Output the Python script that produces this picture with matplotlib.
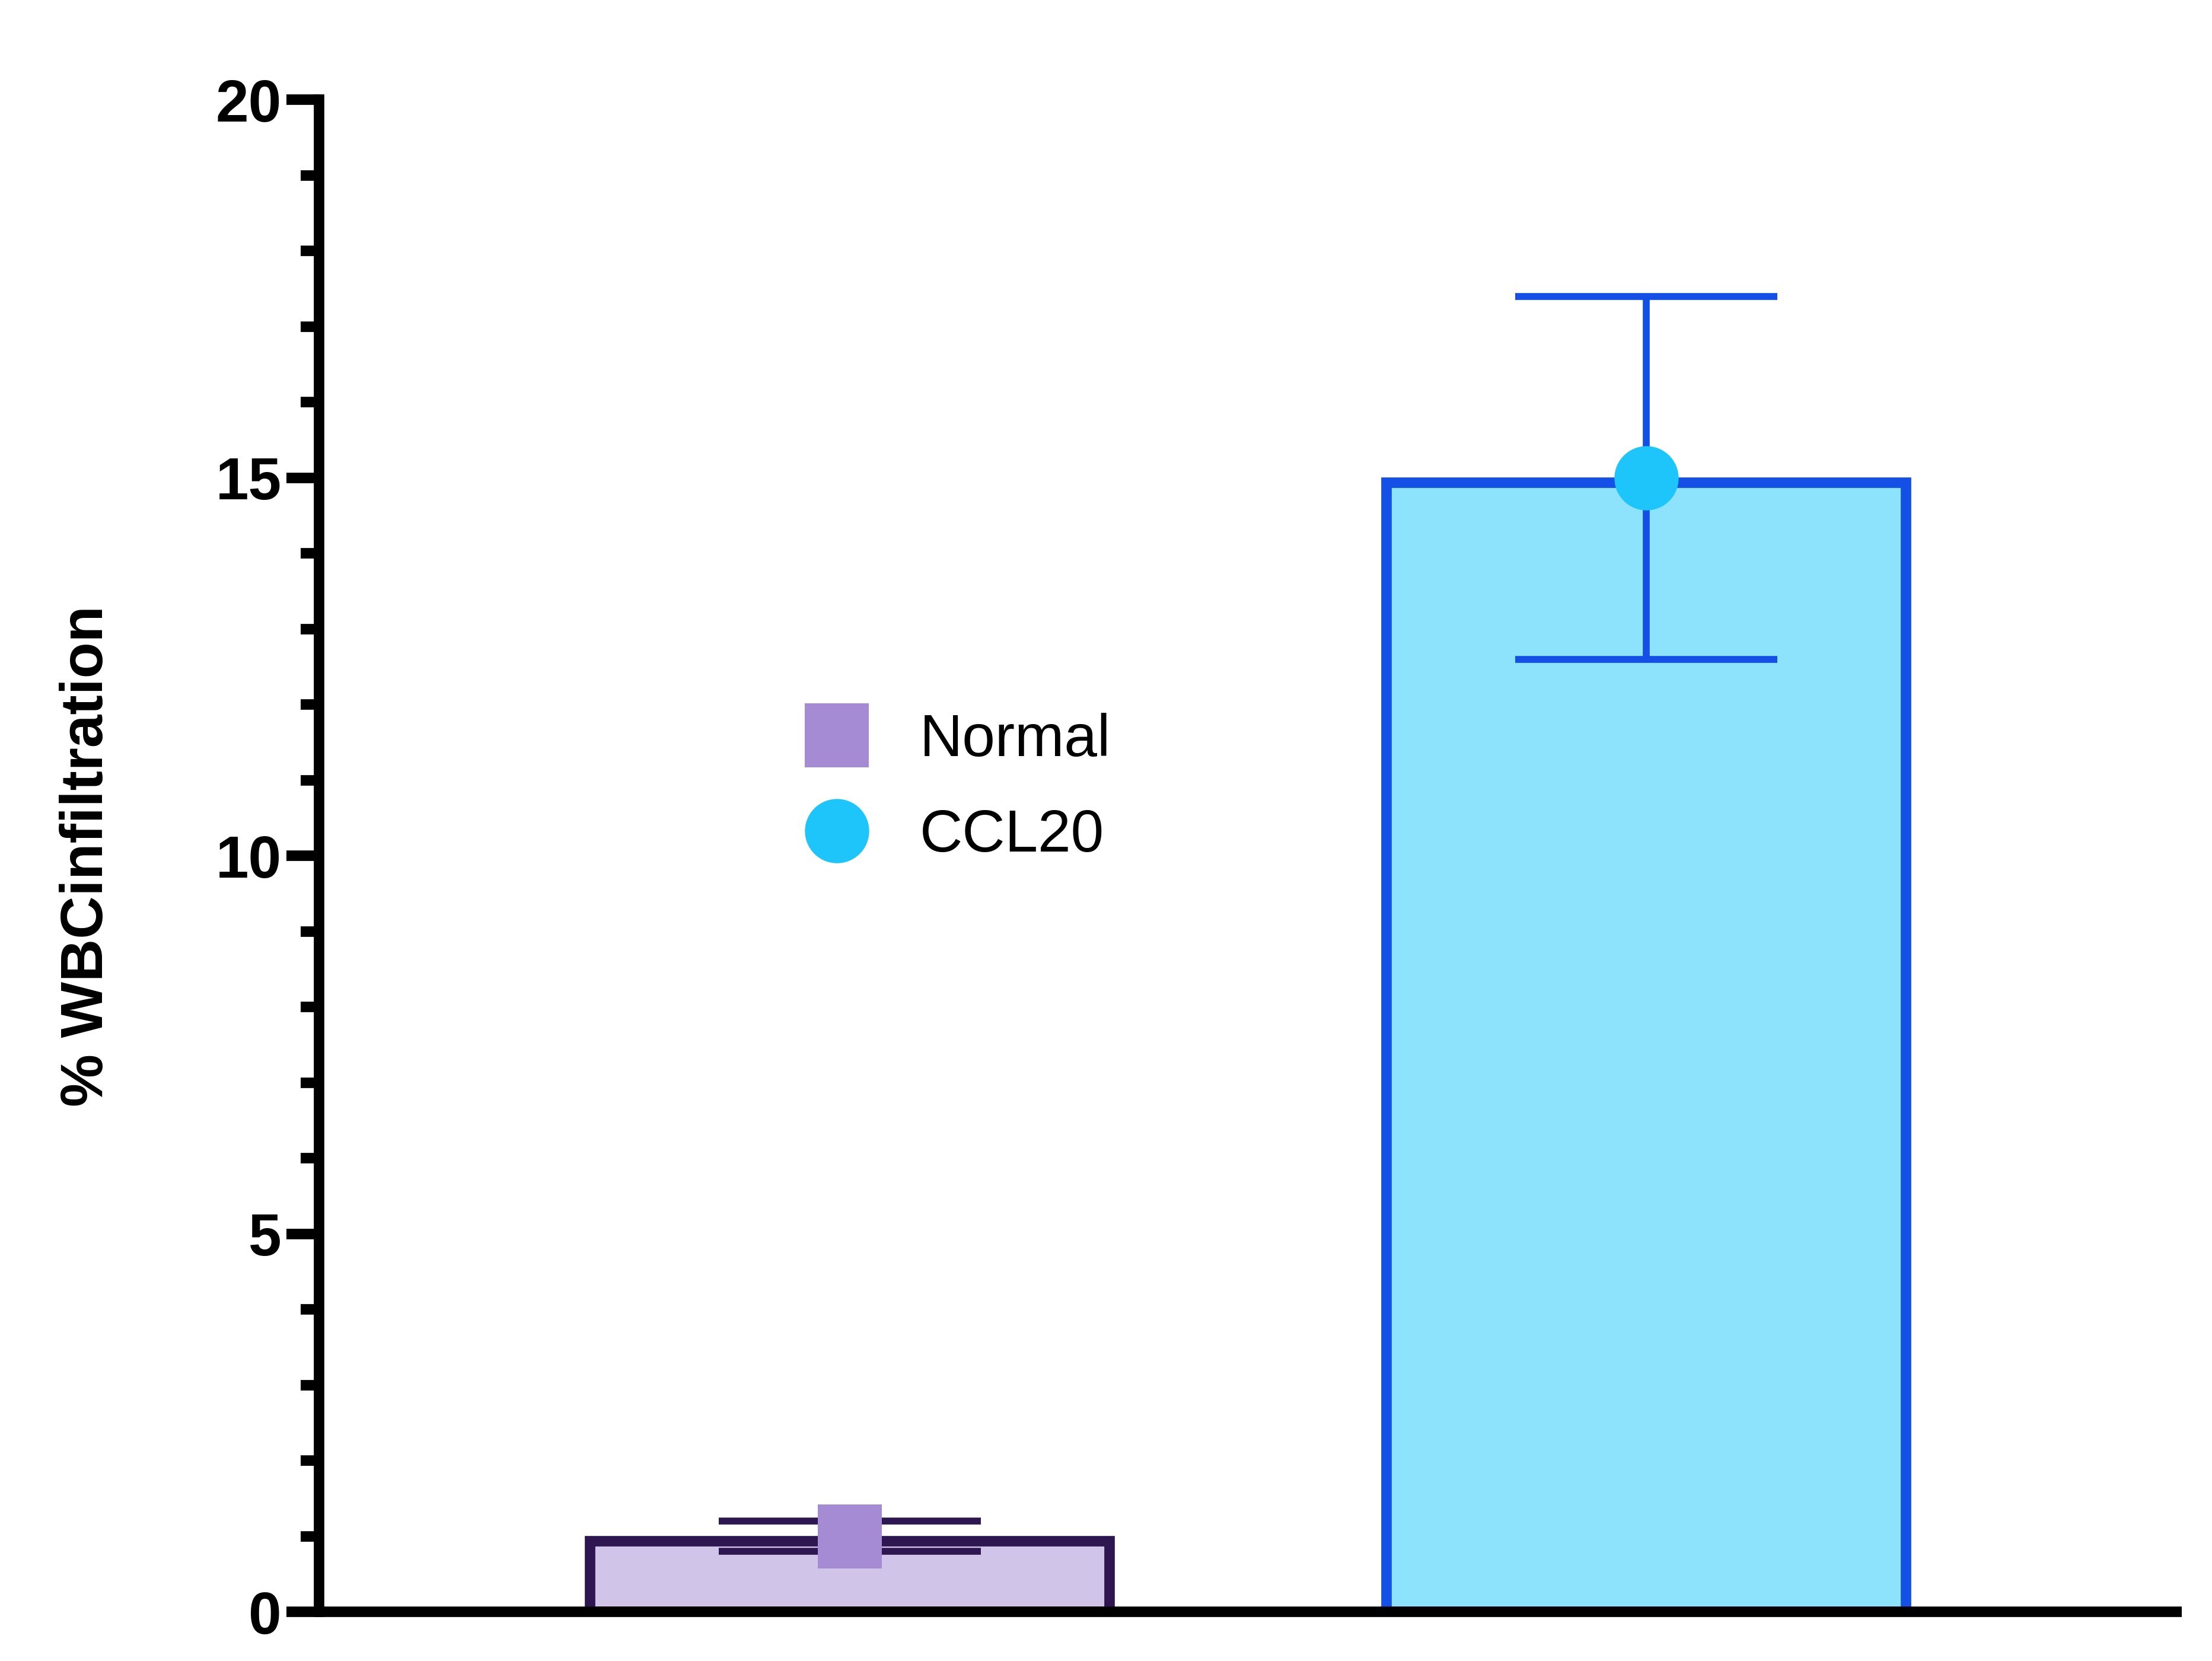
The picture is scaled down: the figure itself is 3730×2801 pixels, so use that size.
import matplotlib
matplotlib.use('Agg')
import matplotlib.pyplot as plt
from matplotlib.lines import Line2D
import numpy as np

plt.rcParams['font.family'] = ['Liberation Sans', 'DejaVu Sans']

# data
groups = ['Normal', 'CCL20']
means = [1.0, 15.0]
errs = [0.2, 2.4]
yticks_major = [0, 5, 10, 15, 20]

bar_fill = ['#D0C4E8', '#8DE3FC']
bar_edge = ['#2E1651', '#1450E6']
marker_col = ['#A48BD3', '#1EC5FB']
markers = ['s', 'o']


def plot_bars():
    fig = plt.figure(figsize=(3730 / 300, 2801 / 300), dpi=300)
    ax = fig.add_axes([0.1442, 0.0296, 0.8421, 0.9104])

    lw = 4.25
    # prism draws the bar border inside the bar, so pull the top down by half a line
    inset = 0.069
    x = np.arange(len(groups))
    for i in range(len(groups)):
        ax.bar(x[i], means[i] - inset, width=0.652, color=bar_fill[i],
               edgecolor=bar_edge[i], linewidth=lw, zorder=2)
        ax.errorbar(x[i], means[i], yerr=errs[i], fmt='none',
                    ecolor=bar_edge[i], elinewidth=2.8, capsize=53,
                    capthick=2.8, zorder=3)
        ax.plot(x[i], means[i], marker=markers[i], markersize=26,
                color=marker_col[i], markeredgewidth=0, linestyle='none',
                zorder=4)

    ax.set_xlim(-0.6664, 1.6724)
    ax.set_ylim(0, 20)
    ax.set_xticks([])
    ax.set_yticks(yticks_major)
    ax.set_yticks(np.arange(0, 21, 1), minor=True)
    ax.tick_params(axis='y', which='major', length=13.2, width=lw, pad=2,
                   labelsize=24)
    ax.tick_params(axis='y', which='minor', length=7.4, width=lw)
    for lab in ax.get_yticklabels():
        lab.set_fontweight('bold')

    for s in ['top', 'right']:
        ax.spines[s].set_visible(False)
    ax.spines['left'].set_linewidth(lw)
    ax.spines['bottom'].set_linewidth(lw)
    ax.spines['left'].set_capstyle('projecting')
    ax.spines['bottom'].set_capstyle('butt')
    ax.spines['bottom'].set_zorder(5)

    ax.set_ylabel('% WBCinfiltration', fontsize=24, fontweight='bold')
    ax.yaxis.set_label_coords(-0.1243, 0.5)
    ax.yaxis.label.set_verticalalignment('center')

    handles = [Line2D([], [], marker=markers[i], markersize=26,
                      color=marker_col[i], markeredgewidth=0, linestyle='none')
               for i in range(len(groups))]
    ax.legend(handles, groups, loc='center left',
              bbox_to_anchor=(0.3649, 0.5252), bbox_transform=fig.transFigure,
              frameon=False, fontsize=24, handlelength=1.0,
              handletextpad=0.9, labelspacing=0.67, borderpad=0,
              borderaxespad=0, numpoints=1)

    fig.savefig('out.png', dpi=300, facecolor='white')


def main():
    plot_bars()

main()
